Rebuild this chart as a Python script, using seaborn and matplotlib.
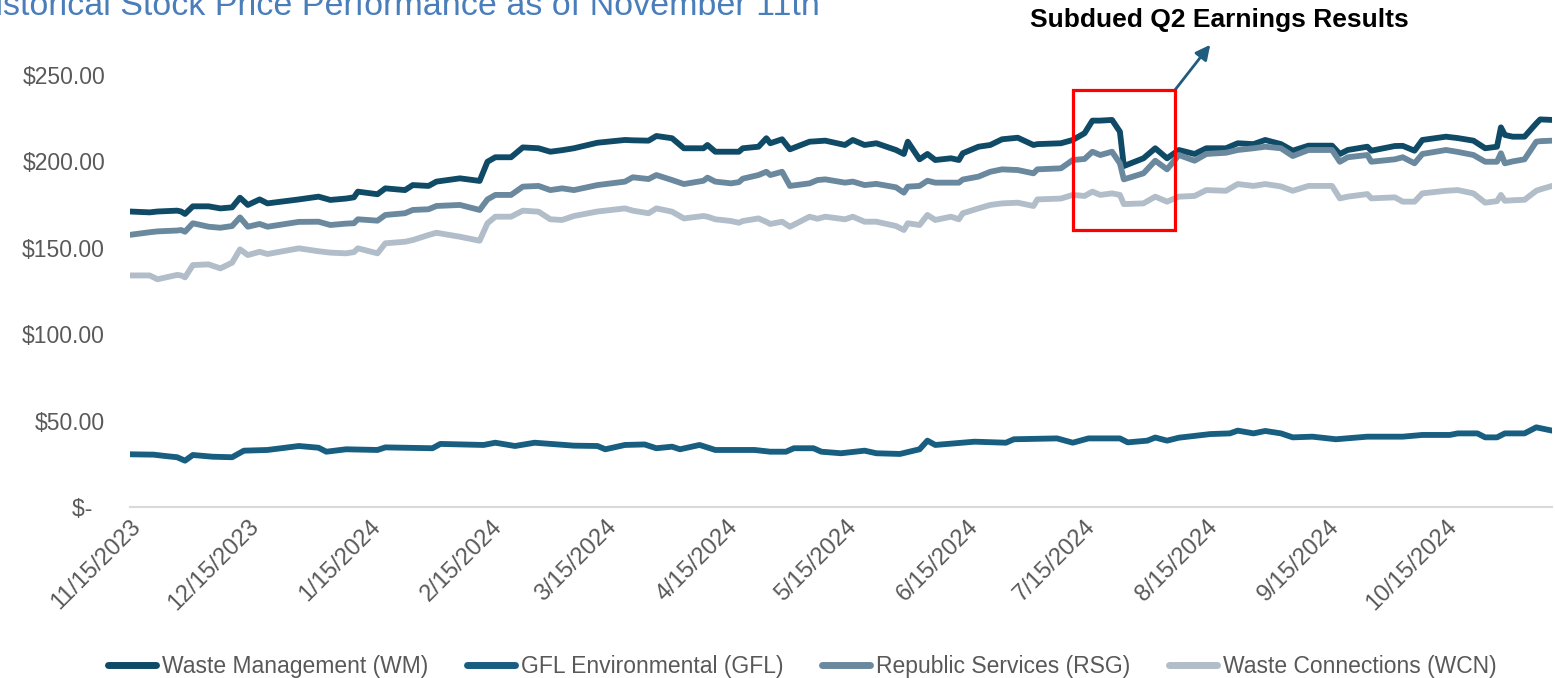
import pandas as pd
import matplotlib.pyplot as plt
import matplotlib.dates as mdates
from matplotlib.patches import Rectangle
from matplotlib.lines import Line2D
import seaborn as sns

# shared trading dates for WM / RSG / WCN
dates = ['2023-11-15', '2023-11-20', '2023-11-22', '2023-11-27', '2023-11-28', '2023-11-29', '2023-12-01', '2023-12-05', '2023-12-08', '2023-12-11',
         '2023-12-13', '2023-12-15', '2023-12-18', '2023-12-20', '2023-12-28', '2024-01-02', '2024-01-05', '2024-01-09', '2024-01-11', '2024-01-12',
         '2024-01-17', '2024-01-19', '2024-01-24', '2024-01-26', '2024-01-30', '2024-02-01', '2024-02-07', '2024-02-12', '2024-02-14', '2024-02-16',
         '2024-02-20', '2024-02-23', '2024-02-27', '2024-03-01', '2024-03-04', '2024-03-07', '2024-03-13', '2024-03-20', '2024-03-22', '2024-03-26',
         '2024-03-28', '2024-04-01', '2024-04-04', '2024-04-09', '2024-04-10', '2024-04-12', '2024-04-16', '2024-04-18', '2024-04-19', '2024-04-23',
         '2024-04-25', '2024-04-26', '2024-04-29', '2024-05-01', '2024-05-06', '2024-05-08', '2024-05-10', '2024-05-15', '2024-05-17', '2024-05-20',
         '2024-05-23', '2024-05-28', '2024-05-30', '2024-05-31', '2024-06-03', '2024-06-05', '2024-06-07', '2024-06-11', '2024-06-13', '2024-06-14',
         '2024-06-18', '2024-06-21', '2024-06-24', '2024-06-28', '2024-07-02', '2024-07-03', '2024-07-09', '2024-07-12', '2024-07-15', '2024-07-17',
         '2024-07-19', '2024-07-22', '2024-07-24', '2024-07-25', '2024-07-30', '2024-08-02', '2024-08-05', '2024-08-08', '2024-08-12', '2024-08-15',
         '2024-08-20', '2024-08-23', '2024-08-27', '2024-08-30', '2024-09-03', '2024-09-06', '2024-09-10', '2024-09-16', '2024-09-18', '2024-09-20',
         '2024-09-25', '2024-09-26', '2024-10-02', '2024-10-04', '2024-10-07', '2024-10-09', '2024-10-15', '2024-10-18', '2024-10-22', '2024-10-25',
         '2024-10-28', '2024-10-29', '2024-10-30', '2024-11-01', '2024-11-04', '2024-11-07', '2024-11-08', '2024-11-11']

wm = [171, 170.5, 171, 171.5, 171, 169.6, 174, 174, 172.8, 173.4,
      179, 174.8, 178, 175.7, 178, 179.6, 177.7, 178.5, 179.2, 182.5,
      181, 184.4, 183.4, 186.3, 185.8, 188.3, 190.2, 188.7, 199.8, 202.4,
      202.4, 208.1, 207.6, 205.6, 206.5, 207.6, 210.8, 212.4, 212.2, 212,
      214.7, 213.4, 207.6, 207.6, 209.5, 205.6, 205.6, 205.6, 207.6, 208.5,
      213.4, 210.5, 212.8, 207, 211.4, 211.7, 212, 209.5, 212.4, 209.5,
      210.5, 206.6, 204.3, 211.4, 201.2, 204.3, 200.8, 201.8, 200.8, 204.7,
      208.5, 209.5, 212.8, 213.7, 209.5, 210, 210.5, 212.4, 216.3, 223.6,
      223.6, 224, 217.2, 197.3, 201.8, 207.6, 201.8, 206.6, 204.3, 207.6,
      207.6, 210.5, 210, 212.4, 210, 206.2, 209.1, 209.1, 204.3, 206.6,
      208.5, 206.2, 208.9, 209, 206.2, 212.4, 214.3, 213.5, 212, 207.6,
      208.5, 219.7, 215.3, 214.3, 214.3, 222, 224.3, 224]

rsg = [157.5, 159, 159.5, 160, 160.3, 159.3, 164.2, 162.2, 161.6, 162.6,
       167.6, 162.2, 163.8, 162.2, 165, 165.1, 163.2, 164, 164.2, 166.5,
       165.7, 169, 170, 171.9, 172.3, 174.2, 174.8, 171.9, 178, 180.6,
       180.6, 185.4, 185.8, 183.4, 184.4, 183.4, 186.3, 188.3, 190.8, 189.8,
       192.1, 189.2, 186.9, 188.8, 190.6, 188.3, 187.3, 188, 190, 192.1,
       194, 192.1, 194, 185.8, 187.3, 189.2, 189.6, 187.7, 188.3, 186.3,
       187, 185, 181.9, 185.4, 185.8, 188.8, 187.7, 187.7, 187.7, 189.5,
       191.2, 194, 195.4, 195, 193.1, 195.4, 196, 200.8, 201.4, 205.6,
       203.7, 205.6, 198.9, 189.6, 193.1, 200.4, 195.4, 203.7, 200.4, 204.3,
       205, 206.6, 207.6, 208.5, 207.6, 203.1, 206.6, 206.6, 199.8, 202.4,
       203.7, 199.8, 201.2, 202.4, 198.9, 204.3, 206.6, 205.5, 203.7, 199.8,
       199.8, 204.7, 198.9, 200, 201.2, 211.4, 211.7, 212]

wcn = [134, 134, 131.8, 134.3, 134, 132.9, 140, 140.4, 138.1, 141.4,
       149.1, 145.8, 147.7, 146.4, 149.7, 148, 147.2, 146.8, 147.5, 149.7,
       146.8, 152.6, 153.5, 154.5, 157.4, 158.7, 156.4, 154.1, 164.2, 168,
       168, 171.5, 170.9, 166.5, 166.1, 168.4, 171, 172.8, 171.5, 170,
       172.8, 170.9, 167, 168.4, 168, 166.5, 165.5, 164.5, 165.5, 167,
       165, 163.8, 165.1, 162.2, 168, 166.8, 168, 166.5, 168, 165.1,
       165.1, 162.6, 160.3, 164.2, 163.2, 169, 166.1, 168, 166.5, 170,
       172.8, 174.8, 175.7, 176.1, 174.2, 178, 178.5, 180.6, 180, 182.5,
       180.6, 181.5, 180.6, 175.3, 175.7, 179.6, 176.7, 179.6, 180, 183.4,
       183, 186.9, 185.8, 186.9, 185.5, 183, 185.8, 185.8, 178.6, 179.6,
       181.1, 178.6, 179.2, 176.7, 176.7, 181.5, 183, 183.4, 181.5, 176.1,
       177, 180.6, 177.2, 177.5, 177.8, 183, 183.8, 185.8]

gfl_dates = ['2023-11-15', '2023-11-21', '2023-11-24', '2023-11-27', '2023-11-29', '2023-12-01', '2023-12-06', '2023-12-11', '2023-12-14', '2023-12-20',
             '2023-12-28', '2024-01-02', '2024-01-04', '2024-01-09', '2024-01-17', '2024-01-19', '2024-01-31', '2024-02-02', '2024-02-13', '2024-02-16',
             '2024-02-21', '2024-02-26', '2024-03-07', '2024-03-13', '2024-03-15', '2024-03-20', '2024-03-25', '2024-03-28', '2024-04-01', '2024-04-03',
             '2024-04-08', '2024-04-12', '2024-04-22', '2024-04-26', '2024-04-30', '2024-05-02', '2024-05-07', '2024-05-09', '2024-05-14', '2024-05-20',
             '2024-05-23', '2024-05-29', '2024-06-03', '2024-06-05', '2024-06-07', '2024-06-17', '2024-06-25', '2024-06-27', '2024-07-08', '2024-07-12',
             '2024-07-16', '2024-07-24', '2024-07-26', '2024-07-31', '2024-08-02', '2024-08-05', '2024-08-08', '2024-08-16', '2024-08-21', '2024-08-23',
             '2024-08-27', '2024-08-30', '2024-09-03', '2024-09-06', '2024-09-11', '2024-09-17', '2024-09-25', '2024-10-04', '2024-10-09', '2024-10-16',
             '2024-10-18', '2024-10-23', '2024-10-25', '2024-10-28', '2024-10-30', '2024-11-04', '2024-11-07', '2024-11-11']

gfl = [30.5, 30.3, 29.5, 28.8, 26.8, 30.1, 29.1, 28.8, 32.6, 33,
       35.3, 34.3, 32, 33.4, 33, 34.5, 34, 36.5, 35.9, 37.2,
       35.3, 37.2, 35.5, 35.3, 33.4, 35.9, 36.2, 34, 34.9, 33.4,
       35.9, 33, 33, 32, 32, 34, 34, 32, 31.1, 32.6,
       31.1, 30.7, 33.4, 38.4, 35.9, 37.8, 37.2, 39.2, 39.7, 37.2,
       39.7, 39.7, 37.4, 38.4, 40.2, 38.4, 40.1, 42.2, 42.6, 44.2,
       42.6, 44, 42.6, 40.3, 40.7, 39.2, 40.7, 40.7, 41.7, 41.7,
       42.6, 42.6, 40.3, 40.3, 42.6, 42.6, 46.1, 44.2]

names = ['Waste Management (WM)', 'GFL Environmental (GFL)', 'Republic Services (RSG)', 'Waste Connections (WCN)']
colors = ['#0F4A66', '#175E80', '#6A889E', '#B1BDC8']

tick_dates = ['2023-11-15', '2023-12-15', '2024-01-15', '2024-02-15', '2024-03-15', '2024-04-15',
              '2024-05-15', '2024-06-15', '2024-07-15', '2024-08-15', '2024-09-15', '2024-10-15']
tick_labels = ['11/15/2023', '12/15/2023', '1/15/2024', '2/15/2024', '3/15/2024', '4/15/2024',
               '5/15/2024', '6/15/2024', '7/15/2024', '8/15/2024', '9/15/2024', '10/15/2024']
y_ticks = [0, 50, 100, 150, 200, 250]

frames = [
    pd.DataFrame({'date': pd.to_datetime(dates), 'price': wm, 'company': names[0]}),
    pd.DataFrame({'date': pd.to_datetime(gfl_dates), 'price': gfl, 'company': names[1]}),
    pd.DataFrame({'date': pd.to_datetime(dates), 'price': rsg, 'company': names[2]}),
    pd.DataFrame({'date': pd.to_datetime(dates), 'price': wcn, 'company': names[3]}),
]
df = pd.concat(frames, ignore_index=True)

sns.set_style('white')
plt.rcParams['font.family'] = ['Liberation Sans', 'DejaVu Sans']

fig = plt.figure(figsize=(15.55, 6.78), dpi=100)
ax = fig.add_axes([130 / 1555, 1 - 507 / 678, 1422 / 1555, 432 / 678])

sns.lineplot(data=df, x='date', y='price', hue='company', hue_order=names,
             palette=dict(zip(names, colors)), linewidth=4.2, legend=False, ax=ax,
             solid_capstyle='round', solid_joinstyle='round')

ax.set_xlim(pd.Timestamp('2023-11-15'), pd.Timestamp('2024-11-11'))
ax.set_ylim(0, 250)
ax.set_xlabel('')
ax.set_ylabel('')

for s in ['left', 'top', 'right']:
    ax.spines[s].set_visible(False)
ax.spines['bottom'].set_color('#D9D9D9')
ax.spines['bottom'].set_linewidth(1.5)

ax.set_xticks(pd.to_datetime(tick_dates))
ax.set_xticklabels(tick_labels)
ax.tick_params(axis='x', length=6, width=1.5, color='#D9D9D9', pad=0,
               labelsize=17, labelcolor='#595959')
for lbl in ax.get_xticklabels():
    lbl.set_rotation(45)
    lbl.set_ha('right')
    lbl.set_rotation_mode('anchor')

ax.set_yticks(y_ticks)
ax.set_yticklabels(['$-  ' if v == 0 else f'${v:,.2f}' for v in y_ticks])
ax.tick_params(axis='y', length=0, pad=18, labelsize=16.5, labelcolor='#595959')

# annotation box around the Q2 drop
x0 = mdates.date2num(pd.Timestamp('2024-07-12'))
x1 = mdates.date2num(pd.Timestamp('2024-08-07'))
ax.add_patch(Rectangle((x0, 160.3), x1 - x0, 81, fill=False, edgecolor='#FF0000',
                       linewidth=2.3, clip_on=False, zorder=5))
ax.annotate('', xy=(mdates.date2num(pd.Timestamp('2024-08-16')), 267.5), xytext=(x1, 241.3),
            annotation_clip=False,
            arrowprops=dict(arrowstyle='-|>', color='#1F5C7E', lw=2, mutation_scale=22,
                            shrinkA=0, shrinkB=0))
fig.text(1219 / 1555, 1 - 20 / 678, 'Subdued Q2 Earnings Results', ha='center', va='center',
         fontsize=19, fontweight='bold', color='black')

fig.text(820 / 1555, 1 - 15 / 678, 'Historical Stock Price Performance as of November 11th',
         ha='right', va='baseline', fontsize=24.5, color='#4A7EBB')

handles = [Line2D([0], [0], color=c, lw=5, solid_capstyle='round') for c in colors]
fig.legend(handles, names, loc='lower center', bbox_to_anchor=(0.516, -0.03), ncol=4,
           frameon=False, fontsize=16.5, labelcolor='#595959', handlelength=2.1,
           handletextpad=0.25, columnspacing=1.7)

fig.savefig('out.png', dpi=100)
